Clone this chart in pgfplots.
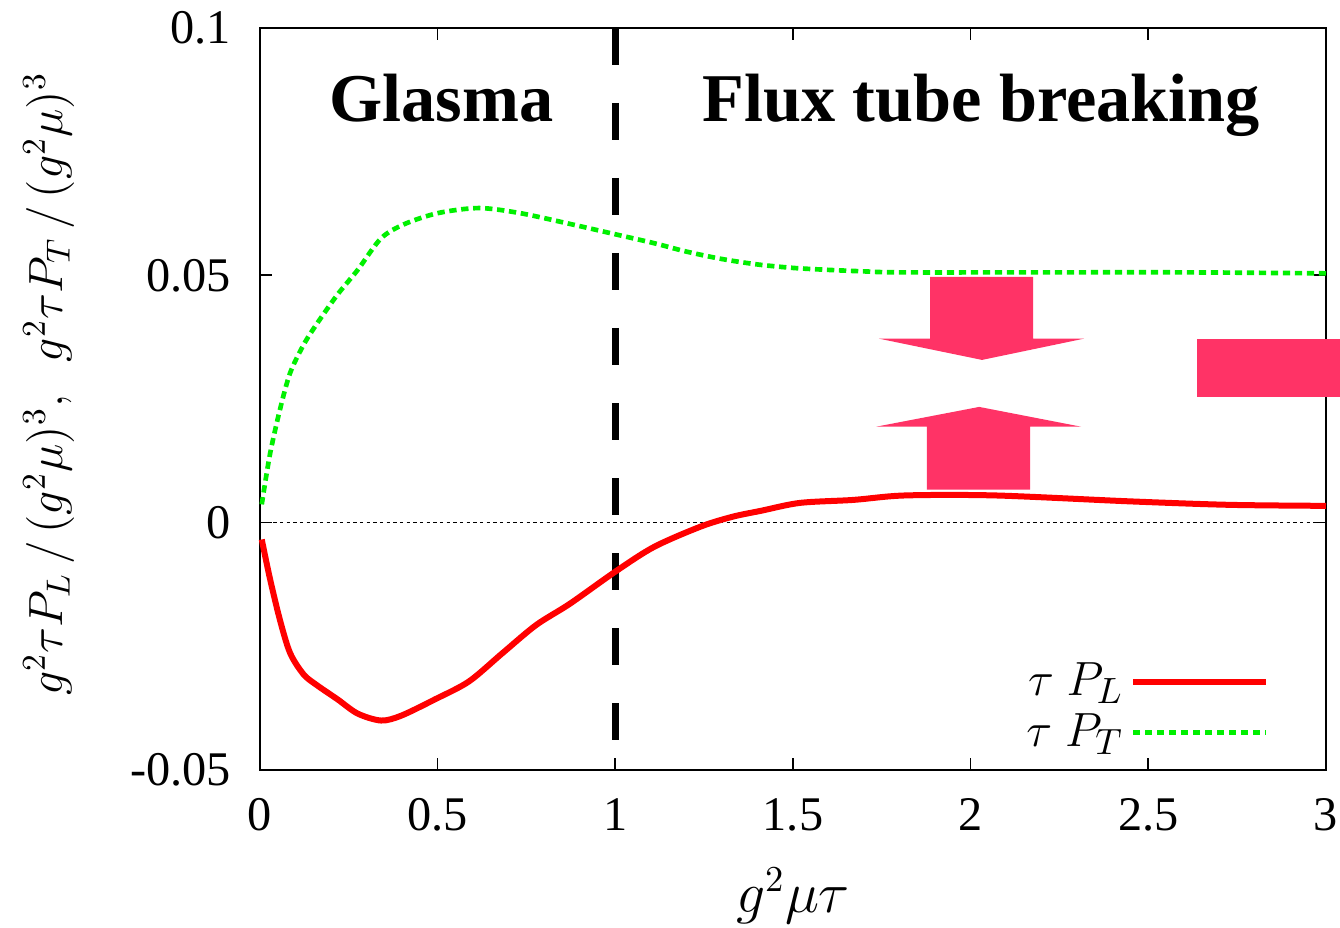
\documentclass[border=0pt]{standalone}
\usepackage{fontspec}
\setmainfont{Liberation Serif}
\newfontfamily\tickfont{Liberation Serif}
\usepackage{pgfplots}
\pgfplotsset{compat=1.18}
\definecolor{arrowred}{RGB}{255,51,102}
\definecolor{lred}{RGB}{255,0,0}
\definecolor{lgreen}{RGB}{0,240,0}
\begin{document}
\begin{tikzpicture}
\useasboundingbox (-78pt,-47.4pt) rectangle (324pt,231pt);
\begin{axis}[
  at={(0,0)}, anchor=south west,
  scale only axis, width=319.8pt, height=222.6pt,
  xmin=0, xmax=3, ymin=-0.05, ymax=0.1,
  xtick={0,0.5,1,1.5,2,2.5,3},
  xticklabels={0,0.5,1,1.5,2,2.5,3},
  ytick={-0.05,0,0.05,0.1},
  yticklabels={-0.05,0,0.05,0.1},
  /pgf/number format/assume math mode=true,
  tick align=inside, major tick length=3.6pt,
  tick style={black, line width=0.5pt},
  axis line style={line width=0.6pt},
  ticklabel style={font=\tickfont\fontsize{14.5}{14.5}\selectfont},
  yticklabel style={xshift=-5.2pt},
  xticklabel style={yshift=-5pt},
  xlabel={$g^2\mu\tau$},
  ylabel={$g^2\tau P_L\,/\,(g^2\mu)^3,\ \ g^2\tau P_T\,/\,(g^2\mu)^3$},
  xlabel style={font=\fontsize{16}{16}\selectfont, at={(axis description cs:0.5,-0.17)}, anchor=center},
  ylabel style={font=\fontsize{14.7}{14.7}\selectfont, at={(axis description cs:-0.198,0.52)}, anchor=center, rotate=0},
  clip=false,
  legend plot pos=right,
  legend cell align=right,
  legend image code/.code={\draw[#1] (9pt,0pt) -- (49pt,0pt);},
  legend style={at={(axis description cs:0.957,0.006)}, anchor=south east, draw=none, fill=none,
    font=\fontsize{15.5}{15.5}\selectfont, row sep=0pt},
]
% zero line
\addplot[black, line width=0.4pt, dash pattern=on 1pt off 1pt, forget plot] coordinates {(0,0) (3,0)};
% separator
\addplot[black, line width=2.1pt, dash pattern=on 11pt off 11.5pt, forget plot] coordinates {(1,0.1) (1,-0.05)};
\addplot[lred, line width=1.8pt, smooth, tension=0.5] coordinates {
(0.005,-0.0034) (0.028,-0.0113) (0.057,-0.0199) (0.085,-0.0264) (0.123,-0.0307)
(0.161,-0.0329) (0.218,-0.0357) (0.275,-0.0386) (0.341,-0.0400) (0.398,-0.0390)
(0.493,-0.0357) (0.588,-0.0321) (0.682,-0.0264) (0.777,-0.0207) (0.872,-0.0164)
(1.0,-0.0099) (1.109,-0.0049) (1.24,-0.0008) (1.33,0.0012) (1.41,0.0024)
(1.52,0.0040) (1.67,0.0046) (1.815,0.0055) (2.07,0.0055) (2.45,0.0043)
(2.73,0.0036) (3.0,0.0034)};
\addlegendentry{$\tau\ P_L$}
\addplot[lgreen, line width=1.4pt, dash pattern=on 2.2pt off 1.4pt, smooth, tension=0.5] coordinates {
(0.005,0.0037) (0.028,0.0138) (0.057,0.0231) (0.085,0.0303) (0.123,0.036)
(0.161,0.0403) (0.218,0.0461) (0.275,0.0511) (0.341,0.0575) (0.408,0.0604)
(0.502,0.0626) (0.616,0.0636) (0.730,0.0626) (0.872,0.0604) (1.0,0.0583)
(1.109,0.0565) (1.2,0.0548) (1.3,0.0533) (1.4,0.0522) (1.5,0.0515)
(1.6,0.0511) (1.7,0.0508) (1.8,0.0506) (2.2,0.0506) (2.6,0.0506) (3.0,0.0504)};
\addlegendentry{$\tau\ P_T$}
% arrows
\fill[arrowred] (axis cs:1.886,0.0497) -- (axis cs:2.176,0.0497) -- (axis cs:2.176,0.0372)
  -- (axis cs:2.319,0.0372) -- (axis cs:2.032,0.0329) -- (axis cs:1.742,0.0372)
  -- (axis cs:1.886,0.0372) -- cycle;
\fill[arrowred] (axis cs:1.877,0.0067) -- (axis cs:2.167,0.0067) -- (axis cs:2.167,0.0194)
  -- (axis cs:2.311,0.0194) -- (axis cs:2.024,0.0234) -- (axis cs:1.734,0.0194)
  -- (axis cs:1.877,0.0194) -- cycle;
\fill[arrowred] (axis cs:2.637,0.0372) rectangle (axis cs:3.3,0.0255);
% region labels
\node[anchor=base, font=\fontsize{20.5}{20.5}\selectfont\bfseries] at (axis cs:0.51,0.081) {Glasma};
\node[anchor=base, font=\fontsize{20.5}{20.5}\selectfont\bfseries] at (axis cs:2.03,0.081) {Flux tube breaking};
\end{axis}
\end{tikzpicture}
\end{document}
